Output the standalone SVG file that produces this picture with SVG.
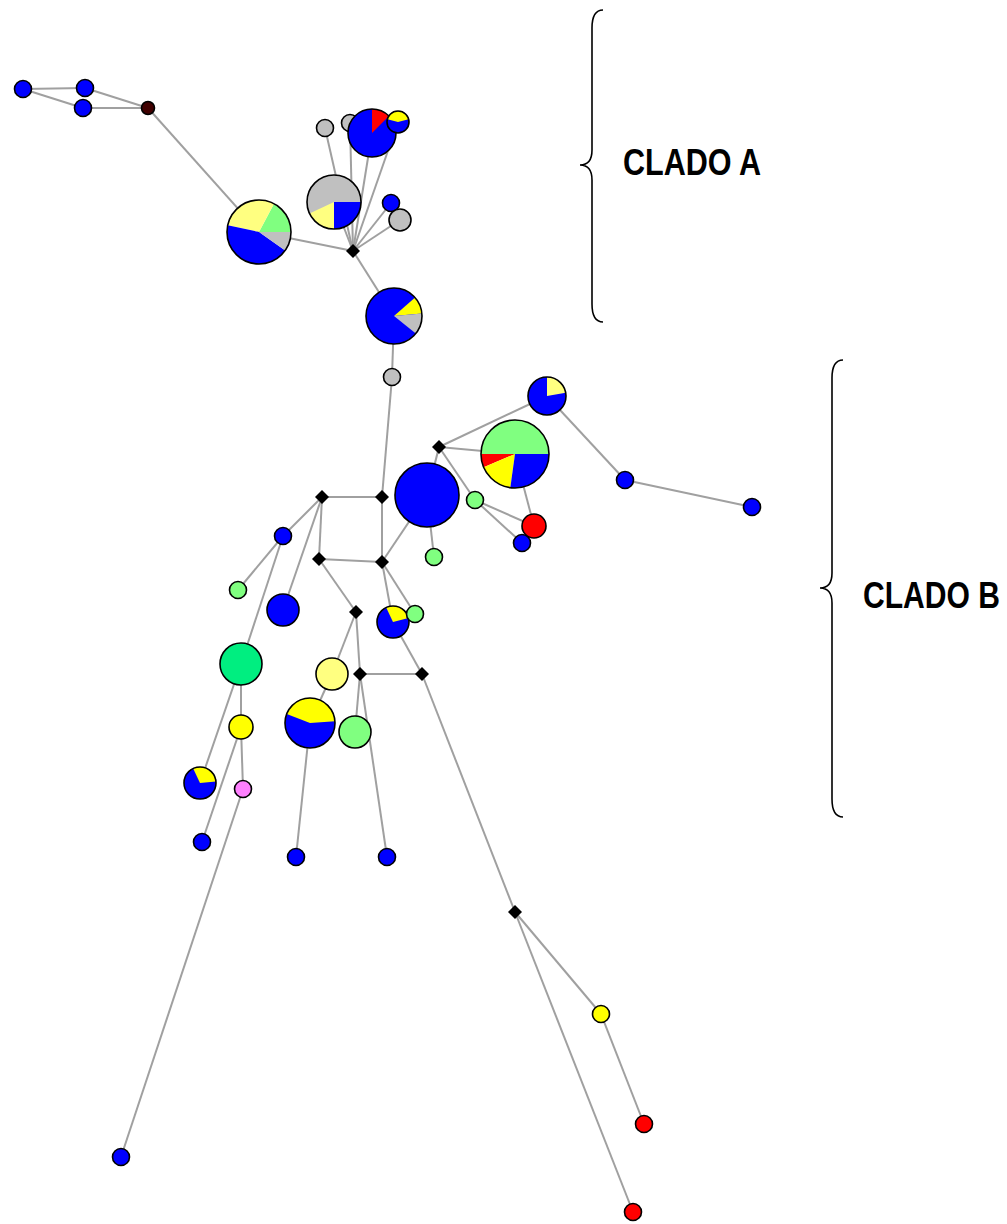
<svg xmlns="http://www.w3.org/2000/svg" width="1007" height="1224" viewBox="0 0 1007 1224">
<style>
.e{stroke:#a0a0a0;stroke-width:2;fill:none}
.o{fill:none;stroke:#000;stroke-width:1.6}
.n{stroke:#000;stroke-width:1.6}
.v{fill:#000;stroke:none}
.B{fill:#0000ff}.R{fill:#ff0000}.Y{fill:#ffff00}.PY{fill:#ffff80}.G{fill:#80ff80}.MG{fill:#00ee80}.GR{fill:#c0c0c0}.PK{fill:#ff80ff}.DK{fill:#400000}
.lbl{font-family:"Liberation Sans",Arial,sans-serif;font-weight:bold;font-size:31px;fill:#000}
.br{fill:none;stroke:#000;stroke-width:1.6}
</style>
<defs>
<path id="mv" d="M0 -7 L7 0 L0 7 L-7 0 Z"/>
</defs>
<rect width="1007" height="1224" fill="#ffffff"/>
<g id="connectors">
<line class="e" x1="23" y1="89" x2="85" y2="88"/>
<line class="e" x1="23" y1="89" x2="83" y2="108"/>
<line class="e" x1="85" y1="88" x2="148" y2="108"/>
<line class="e" x1="83" y1="108" x2="148" y2="108"/>
<line class="e" x1="148" y1="108" x2="259" y2="232"/>
<line class="e" x1="259" y1="232" x2="353" y2="251"/>
<line class="e" x1="334" y1="202" x2="353" y2="251"/>
<line class="e" x1="325" y1="128" x2="353" y2="251"/>
<line class="e" x1="350" y1="123" x2="353" y2="251"/>
<line class="e" x1="372" y1="133" x2="353" y2="251"/>
<line class="e" x1="398" y1="122" x2="353" y2="251"/>
<line class="e" x1="391" y1="203" x2="353" y2="251"/>
<line class="e" x1="400" y1="220" x2="353" y2="251"/>
<line class="e" x1="353" y1="251" x2="394" y2="316"/>
<line class="e" x1="394" y1="316" x2="392" y2="377"/>
<line class="e" x1="392" y1="377" x2="382" y2="497"/>
<line class="e" x1="382" y1="497" x2="322" y2="497"/>
<line class="e" x1="382" y1="497" x2="382" y2="562"/>
<line class="e" x1="322" y1="497" x2="319" y2="559"/>
<line class="e" x1="319" y1="559" x2="382" y2="562"/>
<line class="e" x1="382" y1="562" x2="427" y2="495"/>
<line class="e" x1="427" y1="495" x2="439" y2="447"/>
<line class="e" x1="439" y1="447" x2="547" y2="396"/>
<line class="e" x1="439" y1="447" x2="515" y2="454"/>
<line class="e" x1="439" y1="447" x2="475" y2="500"/>
<line class="e" x1="475" y1="500" x2="534" y2="526"/>
<line class="e" x1="475" y1="500" x2="522" y2="543"/>
<line class="e" x1="515" y1="454" x2="534" y2="526"/>
<line class="e" x1="547" y1="396" x2="625" y2="480"/>
<line class="e" x1="625" y1="480" x2="752" y2="507"/>
<line class="e" x1="427" y1="495" x2="434" y2="557"/>
<line class="e" x1="322" y1="497" x2="283" y2="536"/>
<line class="e" x1="283" y1="536" x2="238" y2="590"/>
<line class="e" x1="283" y1="536" x2="241" y2="664"/>
<line class="e" x1="322" y1="497" x2="283" y2="610"/>
<line class="e" x1="319" y1="559" x2="356" y2="612"/>
<line class="e" x1="356" y1="612" x2="332" y2="674"/>
<line class="e" x1="356" y1="612" x2="360" y2="674"/>
<line class="e" x1="382" y1="562" x2="393" y2="622"/>
<line class="e" x1="382" y1="562" x2="415" y2="614"/>
<line class="e" x1="393" y1="622" x2="422" y2="674"/>
<line class="e" x1="360" y1="674" x2="422" y2="674"/>
<line class="e" x1="360" y1="674" x2="355" y2="732"/>
<line class="e" x1="360" y1="674" x2="387" y2="857"/>
<line class="e" x1="332" y1="674" x2="310" y2="723"/>
<line class="e" x1="310" y1="723" x2="296" y2="857"/>
<line class="e" x1="241" y1="664" x2="241" y2="727"/>
<line class="e" x1="241" y1="664" x2="200" y2="783"/>
<line class="e" x1="241" y1="727" x2="243" y2="789"/>
<line class="e" x1="241" y1="727" x2="202" y2="842"/>
<line class="e" x1="243" y1="789" x2="121" y2="1157"/>
<line class="e" x1="422" y1="674" x2="515" y2="912"/>
<line class="e" x1="515" y1="912" x2="601" y2="1014"/>
<line class="e" x1="601" y1="1014" x2="644" y2="1124"/>
<line class="e" x1="515" y1="912" x2="633" y2="1212"/>
</g>
<g id="nodes">
<g id="n1"><circle class="n B" cx="23" cy="89" r="8.5"/></g>
<g id="n2"><circle class="n B" cx="85" cy="88" r="8.5"/></g>
<g id="n3"><circle class="n B" cx="83" cy="108" r="8.5"/></g>
<g id="n4"><circle class="n DK" cx="148" cy="108" r="6.5"/></g>
<g id="p1">
<path class="G" d="M259 232 L291 232 A32 32 0 0 0 274 203.7 Z"/>
<path class="PY" d="M259 232 L274 203.7 A32 32 0 0 0 227.7 225.3 Z"/>
<path class="B" d="M259 232 L227.7 225.3 A32 32 0 0 0 285.2 250.4 Z"/>
<path class="GR" d="M259 232 L285.2 250.4 A32 32 0 0 0 291 232 Z"/>
<circle class="o" cx="259" cy="232" r="32"/>
</g>
<g id="p2">
<circle class="GR" cx="334" cy="202" r="27"/>
<path class="PY" d="M334 202 L309.5 213.4 A27 27 0 0 0 334 229 Z"/>
<path class="B" d="M334 202 L334 229 A27 27 0 0 0 361 202 Z"/>
<circle class="o" cx="334" cy="202" r="27"/>
</g>
<g id="n5"><circle class="n GR" cx="325" cy="128" r="8.5"/></g>
<g id="n6"><circle class="n GR" cx="350" cy="123" r="8.5"/></g>
<g id="p3">
<circle class="B" cx="372" cy="133" r="24"/>
<path class="R" d="M372 133 L372 109 A24 24 0 0 1 389 116 Z"/>
<circle class="o" cx="372" cy="133" r="24"/>
</g>
<g id="p4">
<circle class="B" cx="398" cy="122" r="11"/>
<path class="Y" d="M398 122 L408.6 119.2 A11 11 0 0 0 387.4 119.2 Z"/>
<circle class="o" cx="398" cy="122" r="11"/>
</g>
<g id="n7"><circle class="n B" cx="391" cy="203" r="8.5"/></g>
<g id="n8"><circle class="n GR" cx="400" cy="220" r="11"/></g>
<g id="v1"><use href="#mv" class="v" x="353" y="251"/></g>
<g id="p5">
<circle class="B" cx="394" cy="316" r="28"/>
<path class="Y" d="M394 316 L421.9 313.6 A28 28 0 0 0 415.1 297.6 Z"/>
<path class="GR" d="M394 316 L415.8 333.6 A28 28 0 0 0 421.9 313.6 Z"/>
<circle class="o" cx="394" cy="316" r="28"/>
</g>
<g id="n9"><circle class="n GR" cx="392" cy="377" r="8.5"/></g>
<g id="p6">
<circle class="B" cx="547" cy="396" r="19"/>
<path class="PY" d="M547 396 L565.7 392.7 A19 19 0 0 0 547 377 Z"/>
<circle class="o" cx="547" cy="396" r="19"/>
</g>
<g id="p7">
<path class="G" d="M515 454 L549 454 A34 34 0 0 0 481 454 Z"/>
<path class="R" d="M515 454 L481 454 A34 34 0 0 0 483.7 467.3 Z"/>
<path class="Y" d="M515 454 L483.7 467.3 A34 34 0 0 0 510.3 487.7 Z"/>
<path class="B" d="M515 454 L510.3 487.7 A34 34 0 0 0 549 454 Z"/>
<circle class="o" cx="515" cy="454" r="34"/>
</g>
<g id="v2"><use href="#mv" class="v" x="439" y="447"/></g>
<g id="n10"><circle class="n B" cx="427" cy="495" r="32"/></g>
<g id="n11"><circle class="n G" cx="475" cy="500" r="8.5"/></g>
<g id="n12"><circle class="n R" cx="534" cy="526" r="12"/></g>
<g id="n13"><circle class="n B" cx="522" cy="543" r="8.5"/></g>
<g id="n14"><circle class="n G" cx="434" cy="557" r="8.5"/></g>
<g id="n15"><circle class="n B" cx="625" cy="480" r="8.5"/></g>
<g id="n16"><circle class="n B" cx="752" cy="507" r="8.5"/></g>
<g id="v3"><use href="#mv" class="v" x="322" y="497"/></g>
<g id="v4"><use href="#mv" class="v" x="382" y="497"/></g>
<g id="v5"><use href="#mv" class="v" x="319" y="559"/></g>
<g id="v6"><use href="#mv" class="v" x="382" y="562"/></g>
<g id="n17"><circle class="n B" cx="283" cy="536" r="8.5"/></g>
<g id="n18"><circle class="n G" cx="238" cy="590" r="8.5"/></g>
<g id="n19"><circle class="n B" cx="283" cy="610" r="16"/></g>
<g id="v7"><use href="#mv" class="v" x="356" y="612"/></g>
<g id="p8">
<circle class="B" cx="393" cy="622" r="16"/>
<path class="Y" d="M393 622 L408.5 617.9 A16 16 0 0 0 386.2 607.5 Z"/>
<circle class="o" cx="393" cy="622" r="16"/>
</g>
<g id="n20"><circle class="n G" cx="415" cy="614" r="8.5"/></g>
<g id="n21"><circle class="n MG" cx="241" cy="664" r="21"/></g>
<g id="n22"><circle class="n PY" cx="332" cy="674" r="16"/></g>
<g id="v8"><use href="#mv" class="v" x="360" y="674"/></g>
<g id="v9"><use href="#mv" class="v" x="422" y="674"/></g>
<g id="p9">
<circle class="B" cx="310" cy="723" r="25"/>
<path class="Y" d="M310 723 L334.9 721.3 A25 25 0 0 0 286.7 714 Z"/>
<circle class="o" cx="310" cy="723" r="25"/>
</g>
<g id="n23"><circle class="n G" cx="355" cy="732" r="16"/></g>
<g id="n24"><circle class="n Y" cx="241" cy="727" r="12"/></g>
<g id="p10">
<circle class="B" cx="200" cy="783" r="16"/>
<path class="Y" d="M200 783 L215.9 781.6 A16 16 0 0 0 193.2 768.5 Z"/>
<circle class="o" cx="200" cy="783" r="16"/>
</g>
<g id="n25"><circle class="n PK" cx="243" cy="789" r="8.5"/></g>
<g id="n26"><circle class="n B" cx="202" cy="842" r="8.5"/></g>
<g id="n27"><circle class="n B" cx="296" cy="857" r="8.5"/></g>
<g id="n28"><circle class="n B" cx="387" cy="857" r="8.5"/></g>
<g id="n29"><circle class="n B" cx="121" cy="1157" r="8.5"/></g>
<g id="v10"><use href="#mv" class="v" x="515" y="912"/></g>
<g id="n30"><circle class="n Y" cx="601" cy="1014" r="8.5"/></g>
<g id="n31"><circle class="n R" cx="644" cy="1124" r="8.5"/></g>
<g id="n32"><circle class="n R" cx="633" cy="1212" r="8.5"/></g>
</g>
<g id="cladeA">
<path class="br" d="M603 10 Q592 10 592 28 L592 150 Q592 165 580 165 Q592 165 592 180 L592 304 Q592 322 603 322"/>
<text class="lbl" transform="translate(623 175) scale(1 1.2)" x="0" y="0" textLength="138" lengthAdjust="spacingAndGlyphs">CLADO A</text>
</g>
<g id="cladeB">
<path class="br" d="M843 360 Q832 360 832 378 L832 573 Q832 588 820 588 Q832 588 832 603 L832 799 Q832 817 843 817"/>
<text class="lbl" transform="translate(863 608) scale(1 1.2)" x="0" y="0" textLength="137" lengthAdjust="spacingAndGlyphs">CLADO B</text>
</g>
</svg>
